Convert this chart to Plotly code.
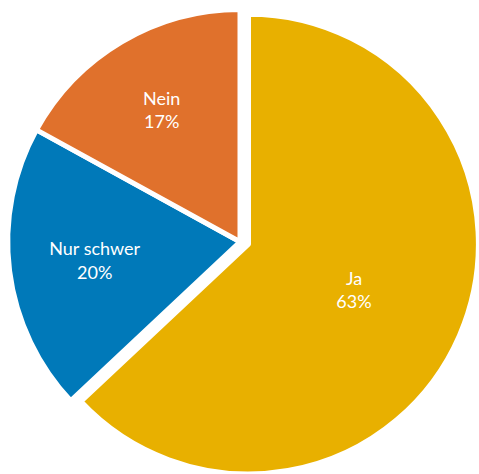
import plotly.graph_objects as go

labels = ["Ja", "Nur schwer", "Nein"]
values = [63, 20, 17]
colors = ["#E8B000", "#0079B9", "#E0712C"]
percent_text = ["63%", "20%", "17%"]

TRANSPARENT = "rgba(0,0,0,0)"
font = dict(family="Lato, Open Sans, sans-serif", size=18, color="white")


def layer(show_idx, domain):
    cols = [c if i in show_idx else TRANSPARENT for i, c in enumerate(colors)]
    widths = [5 if i in show_idx else 0 for i in range(len(values))]
    texts = [f"{labels[i]}<br>{percent_text[i]}" if i in show_idx else ""
             for i in range(len(values))]
    return go.Pie(
        labels=labels,
        values=values,
        sort=False,
        direction="clockwise",
        rotation=0,
        marker=dict(colors=cols, line=dict(color="white", width=widths)),
        text=texts,
        textinfo="text",
        textposition="inside",
        insidetextorientation="horizontal",
        textfont=font,
        hoverinfo="label+percent",
        domain=domain,
        showlegend=False,
    )


fig = go.Figure()
# "Ja" slice, pulled out slightly toward the lower right
fig.add_trace(layer({0}, dict(x=[0.0376, 1.0], y=[0.0, 0.97])))
# remaining slices
fig.add_trace(layer({1, 2}, dict(x=[0.0157, 0.9864], y=[0.0, 0.98])))

fig.update_layout(
    width=479, height=474,
    margin=dict(l=0, r=0, t=0, b=0),
    showlegend=False,
    paper_bgcolor="white",
    plot_bgcolor="white",
)

fig.write_html(
    "out.html",
    config={"displayModeBar": False},
    post_script="document.body.style.margin='0';document.body.style.overflow='hidden';",
)
